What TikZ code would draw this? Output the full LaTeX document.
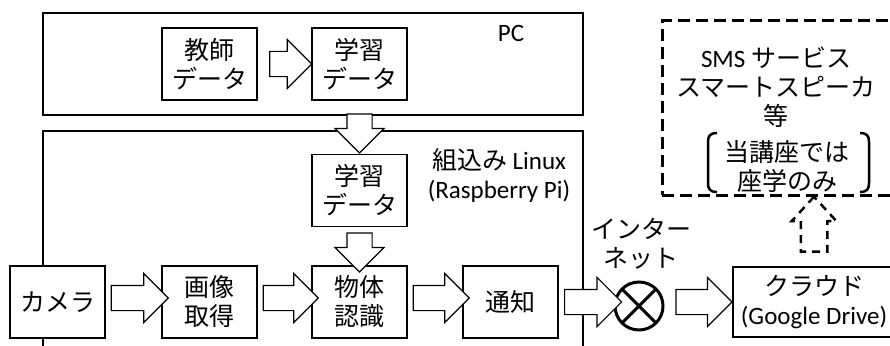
\documentclass[tikz,border=0pt]{standalone}
\usepackage{fontspec}
\setmainfont{Carlito}
\newfontfamily\jp{Noto Sans CJK JP}
\usetikzlibrary{shapes.arrows}

\tikzset{
  every node/.style={font=\fontsize{25}{29}\selectfont},
  jptext/.style={font=\fontsize{25}{29}\selectfont\jp},
  box/.style={draw, fill=white, line width=1.2pt, minimum width=95pt, minimum height=72pt, align=center, inner sep=0pt},
  fatarrow/.style={single arrow, draw, fill=white, line width=1.2pt, inner sep=0pt, inner ysep=12pt,
    single arrow head extend=12pt, single arrow tip angle=90, minimum height=#1},
  fatarrow/.default=56pt,
  pointdown/.style={shape border rotate=270, inner ysep=0pt, inner xsep=12pt},
  pointup/.style={shape border rotate=90, inner ysep=0pt, inner xsep=12pt},
}

\begin{document}
\begin{tikzpicture}[x=1pt,y=1pt,yscale=-1,xscale=1]
\useasboundingbox (0,0) rectangle (890,345);
\clip (0,0) rectangle (890,345);

%Shape: Rectangle [PC]
\draw [line width=1.2pt] (43,13) rectangle (583,115);
%Shape: Rectangle [embedded board]
\draw [line width=1.2pt] (43,131) rectangle (583,370);

% Text Node
\node (pc) at (511,33) {PC};
% Text Node
\node [align=center] (linux) at (499,176) {{\jp 組込み} Linux\\(Raspberry Pi)};

% blocks
\node [box, jptext] (teacher) at (209.5,64) {教師\\データ};
\node [box, jptext] (learnpc) at (359.5,64) {学習\\データ};
\node [box, jptext] (learnpi) at (359.5,190.5) {学習\\データ};
\node [box, jptext] (camera) at (57.5,302) {カメラ};
\node [box, jptext] (capture) at (209.5,302) {画像\\取得};
\node [box, jptext] (detect) at (359.5,302) {物体\\認識};
\node [box, jptext] (notify) at (510.5,302) {通知};
\node [box, minimum width=162pt, minimum height=70pt] (cloud) at (814,302) {{\jp クラウド}\\(Google Drive)};

%Shape: Circle [internet]
\node [circle, draw, line width=3pt, minimum size=48pt, inner sep=0pt, outer sep=0pt] (net) at (639,306) {};
\draw [line width=3pt] (net.north west) -- (net.south east) (net.north east) -- (net.south west);
% Text Node
\node [align=center, jptext] (inet) at (641,244) {インター\\ネット};

%Shape: Rectangle [dashed services]
\node [draw, line width=3pt, dash pattern=on 12pt off 6pt, minimum width=233pt, minimum height=174pt] (sms) at (778.5,108) {};
% Text Node
\node [align=center] (services) at (776,87) {SMS {\jp サービス}\\{\jp スマートスピーカ}\\{\jp 等}};
% Text Node
\node [align=center, jptext] (note) at (787,167) {当講座では\\座学のみ};
%Shape: Brackets
\draw [line width=2.5pt] (717,133) .. controls (710,133) and (708,136) .. (708,142) -- (708,183) .. controls (708,189) and (710,192) .. (717,192);
\draw [line width=2.5pt] (860,133) .. controls (867,133) and (869,136) .. (869,142) -- (869,183) .. controls (869,189) and (867,192) .. (860,192);

% block arrows
\path (teacher.east) -- node [fatarrow=42pt] {} (learnpc.west);
\path (learnpc.south) -- node [fatarrow=39pt, pointdown] {} (learnpi.north);
\path (learnpi.south) -- node [fatarrow=39pt, pointdown] {} (detect.north);
\path ([yshift=-4pt]camera.east) -- node [fatarrow=57pt] {} ([yshift=-4pt]capture.west);
\path ([yshift=-4pt]capture.east) -- node [fatarrow=55pt] {} ([yshift=-4pt]detect.west);
\path ([yshift=-4pt]detect.east) -- node [fatarrow=56pt] {} ([yshift=-4pt]notify.west);
\path ([yshift=-4pt]notify.east) -- node [fatarrow=57pt] {} (net.west);
\path (net.east) -- node [fatarrow=56pt] {} ([yshift=-4pt]cloud.west);
\path (cloud.north) -- node [fatarrow=55pt, pointup, line width=2.5pt, dash pattern=on 8pt off 6pt,
  single arrow head extend=9pt, single arrow tip angle=85] {} (cloud.north |- sms.south);

\end{tikzpicture}
\end{document}
